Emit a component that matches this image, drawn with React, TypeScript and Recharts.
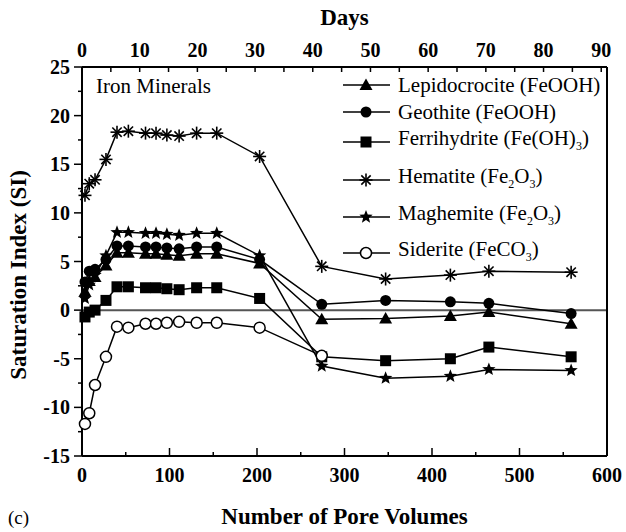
import React from 'react';
import { LineChart, Line, XAxis, YAxis, ReferenceLine, Legend } from 'recharts';

// pore volumes at which the samples were taken
const poreVolumes = [3.4, 8.3, 14.9, 27.4, 40, 53, 72.6, 84.6, 97, 111, 131, 154, 203, 274, 347, 421, 465, 559];

const lepidocrocite = [1.9, 3.0, 3.4, 4.6, 5.9, 5.9, 5.8, 5.8, 5.7, 5.6, 5.8, 5.8, 4.8, -0.95, -0.85, -0.6, -0.2, -1.4];
const geothite = [2.9, 4.0, 4.2, 5.2, 6.6, 6.6, 6.5, 6.5, 6.4, 6.3, 6.5, 6.5, 5.2, 0.6, 1.0, 0.85, 0.7, -0.35];
const ferrihydrite = [-0.7, -0.2, 0.0, 1.0, 2.4, 2.4, 2.3, 2.3, 2.2, 2.1, 2.3, 2.3, 1.2, -4.8, -5.2, -5.0, -3.8, -4.8];
const hematite = [11.8, 13.0, 13.4, 15.5, 18.3, 18.4, 18.2, 18.2, 18.0, 17.9, 18.2, 18.2, 15.8, 4.5, 3.2, 3.6, 4.0, 3.9];
const maghemite = [1.2, 2.6, 3.6, 5.6, 8.0, 8.0, 7.9, 7.9, 7.8, 7.7, 7.9, 7.9, 5.6, -5.75, -7.0, -6.8, -6.1, -6.2];
const siderite = [-11.7, -10.6, -7.7, -4.8, -1.7, -1.8, -1.4, -1.4, -1.3, -1.2, -1.3, -1.3, -1.8, -4.7, null, null, null, null];

const poreTicks = [0, 50, 100, 150, 200, 250, 300, 350, 400, 450, 500, 550, 600];
const dayTicks = [0, 5, 10, 15, 20, 25, 30, 35, 40, 45, 50, 55, 60, 65, 70, 75, 80, 85, 90];
const siTicks = [-15, -12.5, -10, -7.5, -5, -2.5, 0, 2.5, 5, 7.5, 10, 12.5, 15, 17.5, 20, 22.5, 25];

// the top axis spans 0-91 days over the 0-600 pore volume range
const daysAtRightEdge = 91;
const pvPerDay = 600 / daysAtRightEdge;

const data = poreVolumes.map((pv, i) => ({
  pv,
  lepidocrocite: lepidocrocite[i],
  geothite: geothite[i],
  ferrihydrite: ferrihydrite[i],
  hematite: hematite[i],
  maghemite: maghemite[i],
  siderite: siderite[i],
}));

const serif = '"Liberation Serif", "Times New Roman", serif';

type MarkerType = 'triangle' | 'circle' | 'square' | 'asterisk' | 'star' | 'open';

const Marker = ({ type, cx, cy }: { type: MarkerType; cx: number; cy: number }) => {
  if (cx == null || cy == null || isNaN(cx) || isNaN(cy)) return null;
  switch (type) {
    case 'triangle':
      return <polygon points={`${cx},${cy - 6.5} ${cx + 6.5},${cy + 5} ${cx - 6.5},${cy + 5}`} fill="#000" />;
    case 'circle':
      return <circle cx={cx} cy={cy} r={5.5} fill="#000" />;
    case 'square':
      return <rect x={cx - 5.5} y={cy - 5.5} width={11} height={11} fill="#000" />;
    case 'asterisk': {
      const r = 6.5;
      const d = r * 0.72;
      return (
        <g stroke="#000" strokeWidth={1.6}>
          <line x1={cx} y1={cy - r} x2={cx} y2={cy + r} />
          <line x1={cx - r} y1={cy} x2={cx + r} y2={cy} />
          <line x1={cx - d} y1={cy - d} x2={cx + d} y2={cy + d} />
          <line x1={cx - d} y1={cy + d} x2={cx + d} y2={cy - d} />
        </g>
      );
    }
    case 'star': {
      const pts: string[] = [];
      for (let k = 0; k < 10; k++) {
        const rad = k % 2 === 0 ? 7 : 3;
        const a = -Math.PI / 2 + (k * Math.PI) / 5;
        pts.push(`${cx + rad * Math.cos(a)},${cy + rad * Math.sin(a)}`);
      }
      return <polygon points={pts.join(' ')} fill="#000" />;
    }
    case 'open':
      return <circle cx={cx} cy={cy} r={5.5} fill="#fff" stroke="#000" strokeWidth={1.5} />;
  }
  return null;
};

const sub = { fontSize: 12 };

const series: { key: string; marker: MarkerType; label: React.ReactNode }[] = [
  { key: 'lepidocrocite', marker: 'triangle', label: <>Lepidocrocite (FeOOH)</> },
  { key: 'geothite', marker: 'circle', label: <>Geothite (FeOOH)</> },
  { key: 'ferrihydrite', marker: 'square', label: <>Ferrihydrite (Fe(OH)<sub style={sub}>3</sub>)</> },
  { key: 'hematite', marker: 'asterisk', label: <>Hematite (Fe<sub style={sub}>2</sub>O<sub style={sub}>3</sub>)</> },
  { key: 'maghemite', marker: 'star', label: <>Maghemite (Fe<sub style={sub}>2</sub>O<sub style={sub}>3</sub>)</> },
  { key: 'siderite', marker: 'open', label: <>Siderite (FeCO<sub style={sub}>3</sub>)</> },
];

// vertical centre of each legend row
const legendRows = [85, 112, 142, 180, 217, 253];

const renderLegend = () => (
  <div style={{ position: 'relative', width: 626, height: 280 }}>
    {series.map((s, i) => (
      <div
        key={s.key}
        style={{
          position: 'absolute',
          left: 341,
          top: legendRows[i] - 14,
          height: 28,
          display: 'flex',
          alignItems: 'center',
          whiteSpace: 'nowrap',
        }}
      >
        <svg width={52} height={20}>
          <line x1={2} x2={49} y1={10} y2={10} stroke="#000" strokeWidth={1.5} />
          <Marker type={s.marker} cx={25} cy={10} />
        </svg>
        <span style={{ marginLeft: 5, fontFamily: serif, fontSize: 21, lineHeight: '28px', color: '#000' }}>{s.label}</span>
      </div>
    ))}
  </div>
);

const BottomTick = (props: any) => {
  const { x, y, payload } = props;
  const major = payload.value % 100 === 0;
  return (
    <g>
      <line x1={x} x2={x} y1={y} y2={y - (major ? 8 : 4)} stroke="#000" strokeWidth={1.5} />
      {major && (
        <text x={x} y={y + 26} textAnchor="middle" fontFamily={serif} fontWeight="bold" fontSize={20} fill="#000">
          {payload.value}
        </text>
      )}
    </g>
  );
};

const TopTick = (props: any) => {
  const { x, y, payload } = props;
  const day = Math.round(payload.value / pvPerDay);
  const major = day % 10 === 0;
  return (
    <g>
      <line x1={x} x2={x} y1={y} y2={y + 5} stroke="#000" strokeWidth={1.5} />
      {major && (
        <text x={x} y={y - 10} textAnchor="middle" fontFamily={serif} fontWeight="bold" fontSize={20} fill="#000">
          {day}
        </text>
      )}
    </g>
  );
};

const LeftTick = (props: any) => {
  const { x, y, payload } = props;
  const major = payload.value % 5 === 0;
  return (
    <g>
      <line x1={x} x2={x - (major ? 8 : 4)} y1={y} y2={y} stroke="#000" strokeWidth={1.5} />
      {major && (
        <text x={x - 12} y={y + 7} textAnchor="end" fontFamily={serif} fontWeight="bold" fontSize={20} fill="#000">
          {payload.value}
        </text>
      )}
    </g>
  );
};

const textStyle: React.CSSProperties = {
  position: 'absolute',
  fontFamily: serif,
  fontWeight: 'bold',
  color: '#000',
  whiteSpace: 'nowrap',
  lineHeight: 1,
};

export default function App() {
  return (
    <div style={{ position: 'absolute', left: 0, top: 0, width: 626, height: 532, background: '#fff' }}>
      <LineChart width={626} height={532} data={data} margin={{ top: 27, right: 18, bottom: 26, left: 22 }}>
        <XAxis
          xAxisId="bottom"
          dataKey="pv"
          type="number"
          domain={[0, 600]}
          ticks={poreTicks}
          interval={0}
          height={50}
          tickSize={0}
          tickMargin={0}
          tickLine={false}
          tick={<BottomTick />}
          axisLine={{ stroke: '#000', strokeWidth: 2 }}
        />
        <XAxis
          xAxisId="top"
          orientation="top"
          dataKey="pv"
          type="number"
          domain={[0, 600]}
          ticks={dayTicks.map((d) => d * pvPerDay)}
          interval={0}
          height={40}
          tickSize={0}
          tickMargin={0}
          tickLine={false}
          tick={<TopTick />}
          axisLine={{ stroke: '#000', strokeWidth: 2 }}
        />
        <YAxis
          yAxisId="left"
          type="number"
          domain={[-15, 25]}
          ticks={siTicks}
          interval={0}
          width={60}
          tickSize={0}
          tickMargin={0}
          tickLine={false}
          tick={<LeftTick />}
          axisLine={{ stroke: '#000', strokeWidth: 2 }}
        />
        <YAxis
          yAxisId="right"
          orientation="right"
          type="number"
          domain={[-15, 25]}
          width={1}
          tick={false}
          tickLine={false}
          axisLine={{ stroke: '#000', strokeWidth: 2 }}
        />
        <ReferenceLine xAxisId="bottom" yAxisId="left" y={0} stroke="#555" strokeWidth={2} />
        <Legend layout="vertical" align="center" verticalAlign="middle" content={renderLegend} wrapperStyle={{ top: 0, left: 0, width: 626, height: 280 }} />
        {series.map((s) => (
          <Line
            key={s.key}
            xAxisId="bottom"
            yAxisId="left"
            dataKey={s.key}
            type="linear"
            stroke="#000"
            strokeWidth={1.5}
            connectNulls={false}
            isAnimationActive={false}
            dot={(p: any) => <Marker key={`${s.key}-${p.index}`} type={s.marker} cx={p.cx} cy={p.cy} />}
            activeDot={false}
          />
        ))}
      </LineChart>
      <div style={{ ...textStyle, left: 82, width: 525, textAlign: 'center', top: 6, fontSize: 23 }}>Days</div>
      <div style={{ ...textStyle, left: 82, width: 525, textAlign: 'center', top: 505, fontSize: 23 }}>Number of Pore Volumes</div>
      <div style={{ ...textStyle, left: 8, top: 508, fontSize: 19, fontWeight: 'normal' }}>(c)</div>
      <div style={{ ...textStyle, left: 96, top: 76, fontSize: 21, fontWeight: 'normal' }}>Iron Minerals</div>
      <div
        style={{
          ...textStyle,
          left: 18,
          top: 275,
          fontSize: 23,
          transform: 'translate(-50%, -50%) rotate(-90deg)',
        }}
      >
        Saturation Index (SI)
      </div>
    </div>
  );
}
